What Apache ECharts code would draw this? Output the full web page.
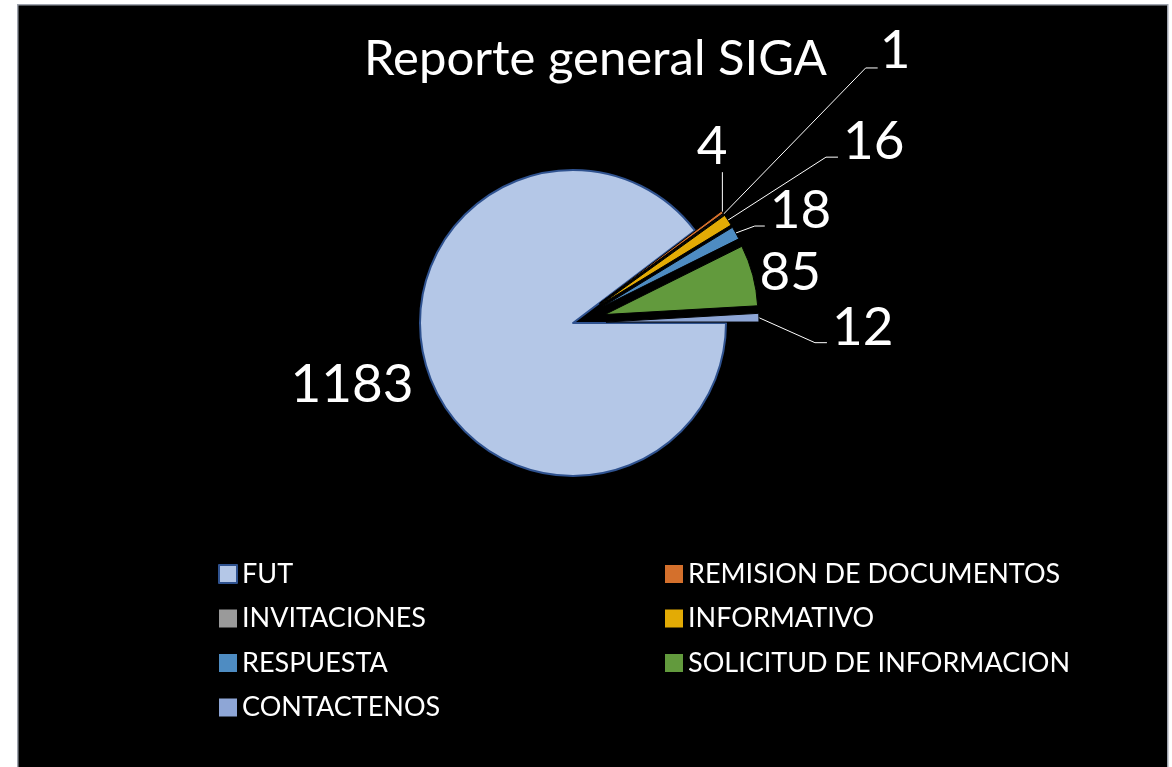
<!DOCTYPE html>
<html><head><meta charset="utf-8">
<script src="https://cdn.jsdelivr.net/npm/echarts@6/dist/echarts.min.js"></script>
<style>html,body{margin:0;padding:0;background:#fff;} #c{width:1172px;height:767px;}</style>
</head><body><div id="c"></div>
<script>
// ---- data ----
const titleText = 'Reporte general SIGA';
const categories = ['FUT', 'REMISION DE DOCUMENTOS', 'INVITACIONES', 'INFORMATIVO', 'RESPUESTA', 'SOLICITUD DE INFORMACION', 'CONTACTENOS'];
const values = [1183, 4, 1, 16, 18, 85, 12];
const legendLeftCol = ['FUT', 'INVITACIONES', 'RESPUESTA', 'CONTACTENOS'];
const legendRightCol = ['REMISION DE DOCUMENTOS', 'INFORMATIVO', 'SOLICITUD DE INFORMACION'];

// ---- styles ----
const colors = ['#B4C7E7', '#D4702C', '#9A9A9A', '#E3AB05', '#4E8CC2', '#629A3D', '#8EA6D6'];
const exploded = [false, true, true, true, true, true, true];
const lineShow = [false, true, true, true, true, false, true];
// leader line: first segment vector from the slice anchor, then a horizontal tail
const lineVec = [null, [0, -40], [142, -146], [98, -63], [19, -7], null, [56, 25]];
const lineTail = [0, 0, 12, 12, 10, 0, 12];
// label offset from end of leader line
const textOff = [null, [5, -25], [2, -17], [5, -15], [5, -15], null, [5, -15]];
const textAlign = ['right', 'right', 'left', 'left', 'left', 'left', 'left'];
// shift for labels without leader line
const labelShift = [[5, 10], [0, 0], [0, 0], [0, 0], [0, 0], [-13, 0], [0, 0]];
const FONT = 'Lato';

const chart = echarts.init(document.getElementById('c'), null, {renderer: 'canvas'});

const seriesData = categories.map((name, i) => ({
  name: name,
  value: values[i],
  selected: exploded[i],
  itemStyle: i === 0
    ? {color: colors[i], borderColor: '#2F528F', borderWidth: 2}
    : {color: colors[i], borderColor: '#000', borderWidth: 1},
  labelLine: {show: lineShow[i], length: 10, length2: 5, lineStyle: {color: '#fff', width: 1}}
}));

chart.setOption({
  backgroundColor: '#ffffff',
  animation: false,
  graphic: [{
    type: 'rect', left: 17, top: 4, z: -10,
    shape: {width: 1150, height: 770},
    style: {fill: '#000', stroke: '#9ea3ad', lineWidth: 1.5}
  }],
  title: {
    text: titleText, left: 364, top: 35, padding: 0,
    textStyle: {color: '#fff', fontFamily: FONT, fontSize: 49, fontWeight: 'normal'}
  },
  legend: [
    {
      orient: 'vertical', left: 218, top: 560, padding: 0,
      data: legendLeftCol.map(n => n === 'FUT' ? {name: n} : {name: n, itemStyle: {borderWidth: 0}}),
      icon: 'rect', itemWidth: 18, itemHeight: 18, itemGap: 16.5, selectedMode: false,
      textStyle: {color: '#fff', fontFamily: FONT, fontSize: 27, lineHeight: 28}
    },
    {
      orient: 'vertical', left: 665, top: 560, padding: 0,
      data: legendRightCol.map(n => ({name: n, itemStyle: {borderWidth: 0}})),
      icon: 'rect', itemWidth: 18, itemHeight: 18, itemGap: 16.5, selectedMode: false,
      textStyle: {color: '#fff', fontFamily: FONT, fontSize: 27, lineHeight: 28}
    }
  ],
  series: [{
    type: 'pie',
    center: [573, 323],
    radius: 153,
    startAngle: 0,
    clockwise: true,
    selectedMode: 'multiple',
    selectedOffset: 33,
    avoidLabelOverlap: false,
    emphasis: {disabled: true},
    label: {show: true, position: 'outside', color: '#fff', fontFamily: FONT, fontSize: 53, formatter: '{c}'},
    labelLayout: function (p) {
      const i = p.dataIndex;
      const pts = p.labelLinePoints;
      if (!lineShow[i] || !pts || !lineVec[i]) {
        return {dx: labelShift[i][0], dy: labelShift[i][1]};
      }
      const a = pts[0];
      const b = [a[0] + lineVec[i][0], a[1] + lineVec[i][1]];
      const c = [b[0] + lineTail[i], b[1]];
      const pointsOut = lineTail[i] ? [a, b, c] : [a, b];
      const r = p.labelRect;
      const wantX = c[0] + textOff[i][0];
      const wantY = c[1] + textOff[i][1];
      const curX = textAlign[i] === 'right' ? r.x + r.width : r.x;
      const curY = r.y + r.height / 2;
      return {
        labelLinePoints: pointsOut,
        dx: wantX - curX,
        dy: wantY - curY
      };
    },
    data: seriesData
  }]
});
</script></body></html>
